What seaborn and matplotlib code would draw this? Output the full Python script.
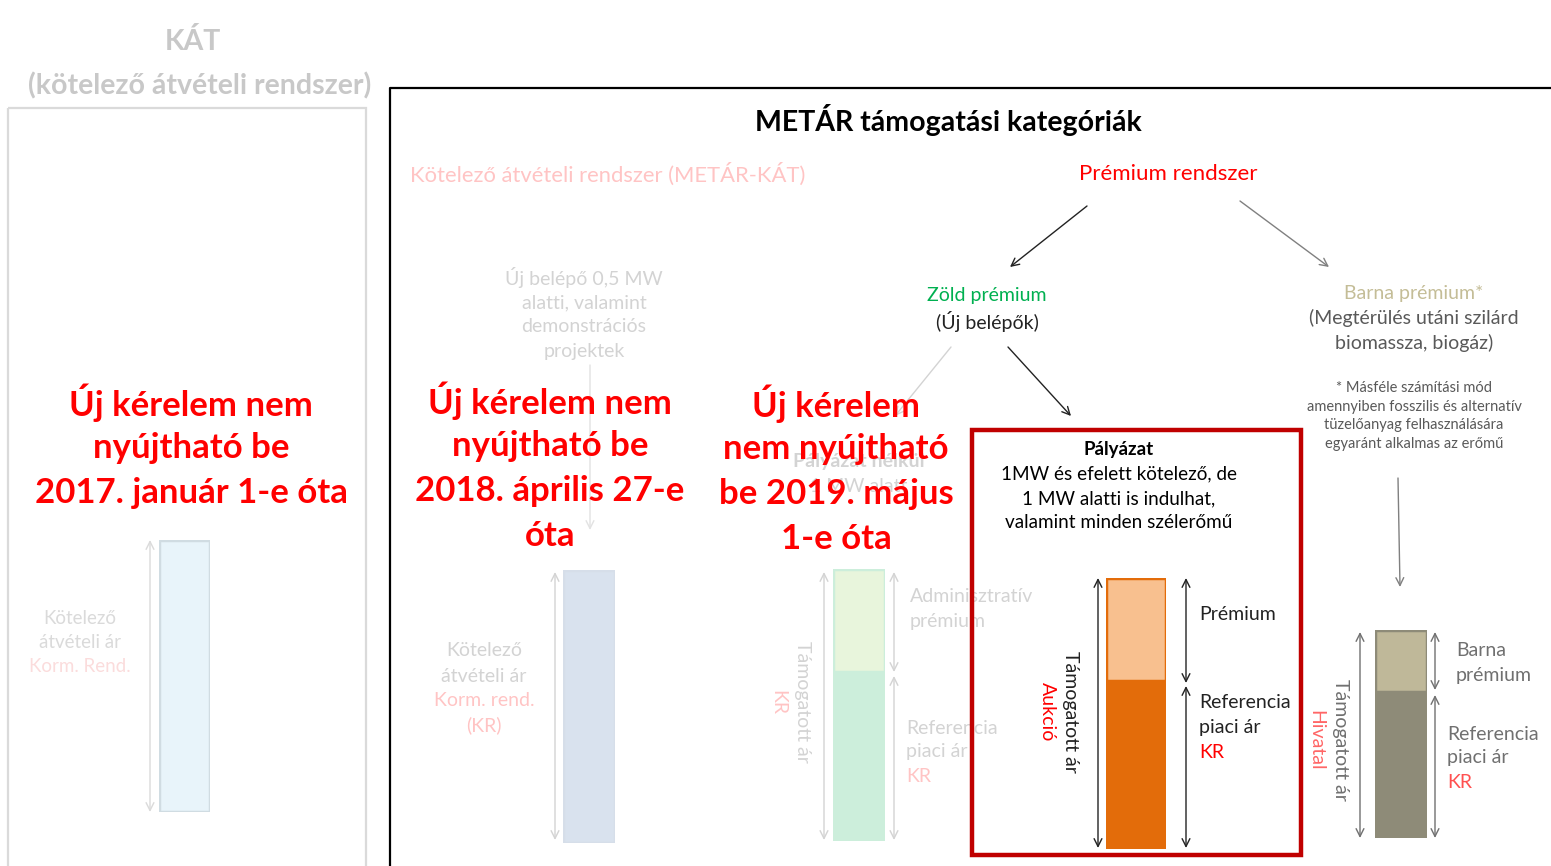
import matplotlib
matplotlib.use('Agg')
import matplotlib.pyplot as plt
from matplotlib.patches import Rectangle
import seaborn as sns

# bar data (price components, arbitrary units)
bar_names = ['KÁT', 'METÁR-KÁT', 'Zöld prémium (adm.)', 'Zöld prémium (pály.)', 'Barna prémium']
reference_part = [1.0, 1.0, 0.62, 0.62, 0.70]
premium_part = [0.0, 0.0, 0.38, 0.38, 0.30]
bottom_colors = ['#E8F4FA', '#D9E2EE', '#CCEEDB', '#E36C0A', '#8E8B78']
top_colors = ['#E8F4FA', '#D9E2EE', '#E8F5DC', '#F8C08F', '#BFB899']
edge_colors = ['#D0DCE2', '#D6DEE9', '#CCEEDB', '#E36C0A', '#8E8B78']
# bar boxes in pixels: left, top, right, bottom
bar_boxes = [(159, 540, 210, 812), (563, 570, 615, 843), (833, 569, 885, 841),
             (1106, 578, 1166, 849), (1375, 630, 1427, 838)]

W, H = 1551, 866
sns.set_style('white')
plt.rcParams['font.family'] = ['Lato', 'DejaVu Sans']

fig = plt.figure(figsize=(W / 100, H / 100), dpi=100)
ax = fig.add_axes([0, 0, 1, 1])
ax.set_xlim(0, W)
ax.set_ylim(H, 0)
ax.axis('off')

FAINT = '#D3D3D3'
PINK = '#FFC4C4'
RED = '#FF0000'
BODY = 14


def txt(x, y, s, size=BODY, color='black', weight='normal', ha='center', rot=0, z=3):
    ax.text(x, y, s, fontsize=size, color=color, fontweight=weight, ha=ha,
            va='center', rotation=rot, zorder=z)


def arrow(x0, y0, x1, y1, color, style='->', lw=1.0, ms=14):
    ax.annotate('', xy=(x1, y1), xytext=(x0, y0),
                arrowprops=dict(arrowstyle=style, color=color, lw=lw,
                                shrinkA=0, shrinkB=0, mutation_scale=ms), zorder=2)


# frames
ax.add_patch(Rectangle((8, 108), 358, 780, fill=False, ec='#DADADA', lw=1.6))
ax.plot([390, 390, W + 5], [H + 5, 88, 88], color='black', lw=1.6)
ax.add_patch(Rectangle((972, 430), 329, 425, fill=False, ec='#C00000', lw=3.2, zorder=5))

# left box (KÁT)
txt(193, 42, 'KÁT', 20.5, '#C8C8C8', 'bold')
txt(200, 86, '(kötelező átvételi rendszer)', 20.5, '#C8C8C8', 'bold')
txt(80, 618, 'Kötelező', 13.5, '#DADADA')
txt(80, 642, 'átvételi ár', 13.5, '#DADADA')
txt(80, 667, 'Korm. Rend.', 13.5, '#FBDCDC')
arrow(150, 540, 150, 812, '#DADADA', '<->')

# main box
txt(948, 120, 'METÁR támogatási kategóriák', 20.5, 'black', 'bold')
txt(608, 174, 'Kötelező átvételi rendszer (METÁR-KÁT)', 15.8, PINK)
txt(1168, 174, 'Prémium rendszer', 16, RED)
arrow(1087, 206, 1010, 267, '#222222')
arrow(1240, 201, 1329, 267, '#808080')

txt(987, 295, 'Zöld prémium', BODY, '#00B050')
txt(987, 322, '(Új belépők)', BODY, '#222222')
arrow(951, 347, 895, 416, FAINT)
arrow(1008, 347, 1071, 416, '#222222')

txt(1414, 293, 'Barna prémium*', BODY, '#C4BD97')
txt(1414, 318, '(Megtérülés utáni szilárd', BODY, '#595959')
txt(1414, 343, 'biomassza, biogáz)', BODY, '#595959')
for i, line in enumerate(['* Másféle számítási mód', 'amennyiben fosszilis és alternatív',
                          'tüzelőanyag felhasználására', 'egyaránt alkalmas az erőmű']):
    txt(1414, 388 + i * 18.7, line, 10.5, '#595959')
arrow(1398, 478, 1400, 587, '#808080')

for i, line in enumerate(['Új belépő 0,5 MW', 'alatti, valamint', 'demonstrációs', 'projektek']):
    txt(584, 278 + i * 24.5, line, BODY, FAINT)
arrow(590, 365, 590, 530, '#E2E2E2')
txt(859, 462, 'Pályázat nélkül', BODY, FAINT, 'bold')
txt(859, 487, '1 MW alatt', BODY, FAINT)

# METÁR-KÁT bar labels
arrow(555, 572, 555, 840, FAINT, '<->')
txt(484, 651, 'Kötelező', BODY, FAINT)
txt(484, 676, 'átvételi ár', BODY, FAINT)
txt(484, 700, 'Korm. rend.', BODY, PINK)
txt(484, 725, '(KR)', BODY, PINK)

# green premium (administrative)
arrow(824, 572, 824, 840, FAINT, '<->')
arrow(894, 572, 894, 672, FAINT, '<->')
arrow(894, 676, 894, 840, FAINT, '<->')
txt(802, 702, 'Támogatott ár', BODY, FAINT, rot=270)
txt(778, 702, 'KR', BODY, PINK, rot=270)
txt(910, 596, 'Adminisztratív', BODY, FAINT, ha='left')
txt(910, 621, 'prémium', BODY, FAINT, ha='left')
txt(906, 728, 'Referencia', BODY, FAINT, ha='left')
txt(906, 752, 'piaci ár', BODY, FAINT, ha='left')
txt(906, 777, 'KR', BODY, PINK, ha='left')

# tender box
txt(1119, 450, 'Pályázat', 13.5, 'black', 'bold')
txt(1119, 474, '1MW és efelett kötelező, de', 13.6)
txt(1119, 499, '1 MW alatti is indulhat,', 13.6)
txt(1119, 523, 'valamint minden szélerőmű', 13.6)
arrow(1098, 578, 1098, 848, '#222222', '<->')
arrow(1186, 578, 1186, 683, '#222222', '<->')
arrow(1186, 686, 1186, 848, '#222222', '<->')
txt(1071, 712, 'Támogatott ár', BODY, '#222222', rot=270)
txt(1047, 712, 'Aukció', BODY, RED, rot=270)
txt(1199, 615, 'Prémium', BODY, '#222222', ha='left')
txt(1199, 703, 'Referencia', BODY, '#222222', ha='left')
txt(1199, 727, 'piaci ár', BODY, '#222222', ha='left')
txt(1199, 752, 'KR', BODY, RED, ha='left')

# brown premium
arrow(1360, 632, 1360, 838, '#707070', '<->')
arrow(1435, 632, 1435, 690, '#707070', '<->')
arrow(1435, 695, 1435, 838, '#707070', '<->')
txt(1340, 740, 'Támogatott ár', BODY, '#707070', rot=270)
txt(1316, 740, 'Hivatal', BODY, '#FF6666', rot=270)
txt(1456, 650, 'Barna', BODY, '#707070', ha='left')
txt(1456, 675, 'prémium', BODY, '#707070', ha='left')
txt(1447, 734, 'Referencia', BODY, '#707070', ha='left')
txt(1447, 758, 'piaci ár', BODY, '#707070', ha='left')
txt(1447, 783, 'KR', BODY, '#FF5050', ha='left')

# bars, each in its own inset axes
for name, ref, prem, bc, tc, ec, box in zip(bar_names, reference_part, premium_part,
                                           bottom_colors, top_colors, edge_colors, bar_boxes):
    x0, y0, x1, y1 = box
    iax = fig.add_axes([x0 / W, 1 - y1 / H, (x1 - x0) / W, (y1 - y0) / H])
    total = ref + prem
    sns.barplot(x=[name], y=[total], color=tc, width=1.0, edgecolor=ec, linewidth=2.5,
                saturation=1, ax=iax)
    if prem > 0:
        sns.barplot(x=[name], y=[ref], color=bc, width=1.0, edgecolor=ec, linewidth=2.5,
                    saturation=1, ax=iax)
    iax.set_xlim(-0.5, 0.5)
    iax.set_ylim(0, total)
    iax.axis('off')

# overlay notes
notes = [(191, ['Új kérelem nem', 'nyújtható be', '2017. január 1-e óta'], 403),
         (550, ['Új kérelem nem', 'nyújtható be', '2018. április 27-e', 'óta'], 401),
         (836, ['Új kérelem', 'nem nyújtható', 'be 2019. május', '1-e óta'], 404)]
for x, lines, y in notes:
    for i, line in enumerate(lines):
        txt(x, y + i * 45, line, 25, RED, 'bold', z=6)

fig.savefig('out.png', dpi=100)
